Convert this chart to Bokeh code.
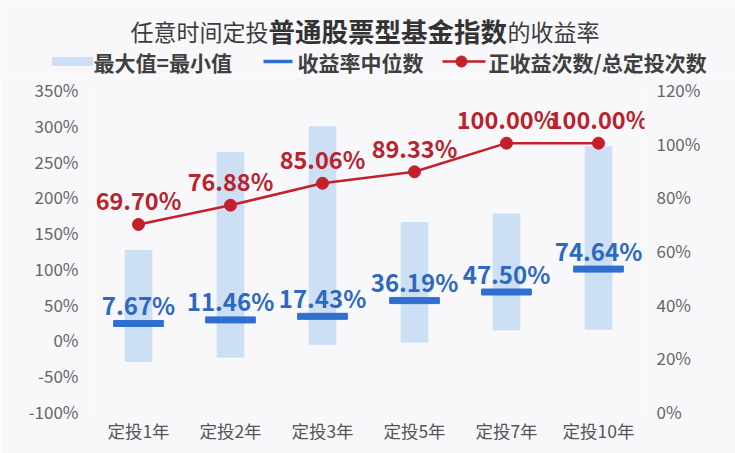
from bokeh.plotting import figure
from bokeh.models import (FactorRange, Range1d, LinearAxis, FixedTicker,
                          PrintfTickFormatter, ColumnDataSource, LabelSet)
from bokeh.layouts import column
from bokeh.embed import file_html
from bokeh.resources import INLINE
from bokeh.core.properties import value

# ---------------- data ----------------
categories = ["定投1年", "定投2年", "定投3年", "定投5年", "定投7年", "定投10年"]
bar_max = [125, 262, 298, 164, 176, 270]
bar_min = [-30, -24, -6, -3, 14, 15]
median_pos = [23, 28, 33, 55, 67, 99]
median_labels = ["7.67%", "11.46%", "17.43%", "36.19%", "47.50%", "74.64%"]
positive_ratio = [69.70, 76.88, 85.06, 89.33, 100.00, 100.00]
left_ticks = [-100, -50, 0, 50, 100, 150, 200, 250, 300, 350]
right_ticks = [0, 20, 40, 60, 80, 100, 120]
title_parts = ["任意时间定投", "普通股票型基金指数", "的收益率"]
legend_labels = ["最大值=最小值", "收益率中位数", "正收益次数/总定投次数"]

ratio_labels = [f"{v:.2f}%" for v in positive_ratio]

FONT_NAME = "Noto Sans CJK SC"
FONT = value(FONT_NAME)
BG = "#f8f8fa"
BAR = "#cddff4"
BLUE = "#2e6fcf"
BLUE_TXT = "#2d69c0"
RED = "#c4202b"
RED_TXT = "#b8232d"

HDR_H = 75

# ---------------- header (title + legend), pixel coordinates ----------------
hdr = figure(width=735, height=HDR_H, x_range=Range1d(0, 735), y_range=Range1d(HDR_H, 0),
             output_backend="svg", toolbar_location=None, min_border=0,
             x_axis_location=None, y_axis_location=None)
hdr.frame_align = False
hdr.grid.visible = False
hdr.outline_line_color = None
hdr.background_fill_color = BG
hdr.border_fill_color = BG

hdr.text(x=[130], y=[30], text=[title_parts[0]], text_font=FONT, text_font_size="23px",
         text_baseline="middle", text_align="left", text_color="#3d3d3d")
hdr.text(x=[268], y=[30], text=[title_parts[1]], text_font=FONT, text_font_size="26.5px",
         text_font_style="bold", text_baseline="middle", text_align="left", text_color="#333333")
hdr.text(x=[507], y=[30], text=[title_parts[2]], text_font=FONT, text_font_size="23px",
         text_baseline="middle", text_align="left", text_color="#3d3d3d")

hdr.rect(x=[72], y=[61], width=40, height=8, color=BAR)
hdr.segment(x0=[263], y0=[61], x1=[292], y1=[61], line_width=3.5, line_color=BLUE)
hdr.segment(x0=[442], y0=[61], x1=[485], y1=[61], line_width=2.5, line_color=RED)
hdr.scatter(x=[461], y=[61], size=11, color=RED)
hdr.text(x=[93, 297, 488], y=[61, 61, 61], text=legend_labels, text_font=FONT,
         text_font_size="21px", text_font_style="bold", text_baseline="middle",
         text_align="left", text_color="#404040")

# ---------------- main chart ----------------
p = figure(width=735, height=453 - HDR_H, x_range=FactorRange(*categories),
           y_range=Range1d(-100, 350), output_backend="svg", toolbar_location=None,
           min_border_top=89 - HDR_H, min_border_bottom=42, min_border_left=92,
           min_border_right=91)
p.frame_align = False
p.extra_y_ranges = {"right": Range1d(0, 120)}
p.grid.visible = False
p.outline_line_color = None
p.background_fill_color = BG
p.border_fill_color = BG

p.vbar(x=categories, top=bar_max, bottom=bar_min, width=0.29, color=BAR)
p.rect(x=categories, y=median_pos, width=0.54, height=6, height_units="screen", color=BLUE)
p.line(x=categories, y=positive_ratio, y_range_name="right", line_color=RED, line_width=2.5)
p.scatter(x=categories, y=positive_ratio, y_range_name="right", size=12, color=RED)

med_src = ColumnDataSource(dict(x=categories, y=median_pos, t=median_labels))
ratio_src = ColumnDataSource(dict(x=categories, y=positive_ratio, t=ratio_labels))
p.add_layout(LabelSet(x="x", y="y", text="t", source=med_src, y_offset=19,
                      text_align="center", text_baseline="middle", text_font=FONT,
                      text_font_size="24px", text_font_style="bold", text_color=BLUE_TXT))
p.add_layout(LabelSet(x="x", y="y", text="t", source=ratio_src, y_range_name="right",
                      y_offset=24, text_align="center", text_baseline="middle",
                      text_font=FONT, text_font_size="23.5px", text_font_style="bold",
                      text_color=RED_TXT))

p.yaxis.ticker = FixedTicker(ticks=left_ticks)
p.yaxis.formatter = PrintfTickFormatter(format="%d%%")
p.yaxis.major_label_standoff = 14

raxis = LinearAxis(y_range_name="right", ticker=FixedTicker(ticks=right_ticks),
                   formatter=PrintfTickFormatter(format="%d%%"))
raxis.major_label_standoff = 12
p.add_layout(raxis, "right")

p.xaxis.major_label_standoff = 6

for ax in p.axis:
    ax.axis_line_color = None
    ax.major_tick_line_color = None
    ax.minor_tick_line_color = None
    ax.major_tick_out = 0
    ax.major_tick_in = 0
    ax.major_label_text_font = FONT_NAME
    ax.major_label_text_font_size = "17px"
    ax.major_label_text_color = "#666666"
p.xaxis.major_label_text_font_size = "17.5px"
p.xaxis.major_label_text_color = "#555555"

layout = column(hdr, p, spacing=0)
open("out.html", "w").write(file_html(layout, INLINE))
